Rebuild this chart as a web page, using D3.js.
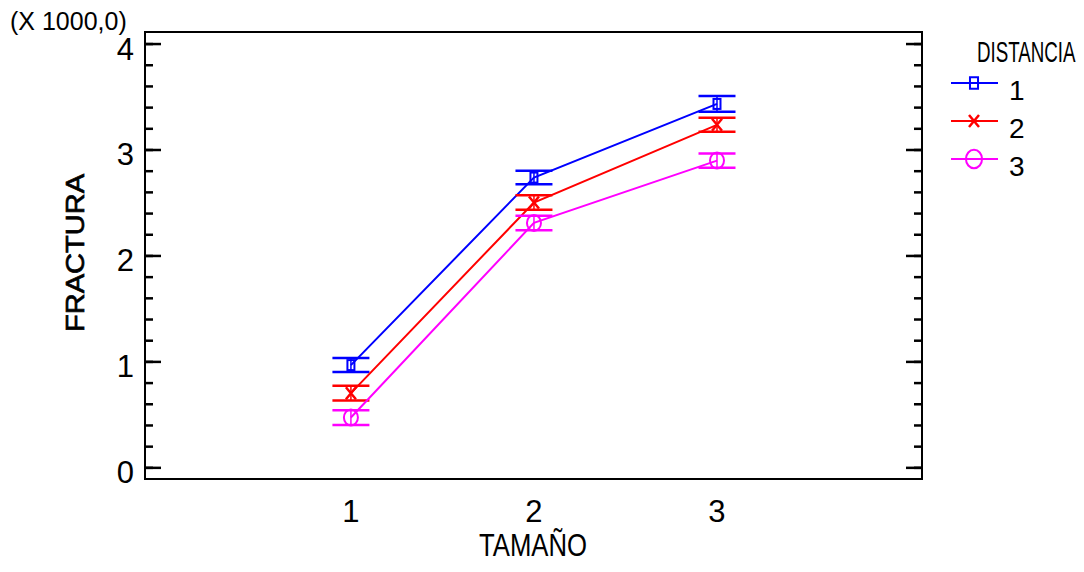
<!DOCTYPE html>
<html>
<head>
<meta charset="utf-8">
<script src="https://cdn.jsdelivr.net/npm/d3@7"></script>
<style>
 body { margin: 0; background: #fff; }
 text { font-family: "Liberation Sans", Arial, sans-serif; fill: #000; }
</style>
</head>
<body>
<script>
const width = 1084;
const height = 572;

// data (values in thousands)
const tamano = [1, 2, 3];
const distancia = ["1", "2", "3"];
const colors = ["#0000ff", "#ff0000", "#ff00ff"];
const markers = ["square", "cross", "circle"];
const means = [
 [0.965, 2.735, 3.43],
 [0.70, 2.50, 3.233],
 [0.47, 2.307, 2.895]
];
const halfErr = [
 [0.066, 0.064, 0.074],
 [0.070, 0.068, 0.066],
 [0.070, 0.068, 0.068]
];
const yTicks = [0, 1, 2, 3, 4];
const xTicks = [1, 2, 3];

const frame = { left: 145, right: 922, top: 32, bottom: 479 };

var svg = d3.select("body")
 .append("svg")
 .attr("width", width)
 .attr("height", height);

const x = d3.scaleLinear().domain([-0.125, 4.12]).range([frame.left, frame.right]);
const y = d3.scaleLinear().domain([-0.11, 4.109]).range([frame.bottom, frame.top]);

// frame
svg.append("rect")
 .attr("x", frame.left)
 .attr("y", frame.top)
 .attr("width", frame.right - frame.left)
 .attr("height", frame.bottom - frame.top)
 .attr("fill", "none")
 .attr("stroke", "#000")
 .attr("stroke-width", 2);

// inward ticks, left and right
const minor = d3.range(0, 4.001, 0.2).map(v => +v.toFixed(1));
function tickAxis(sel, dir) {
 const axMinor = (dir > 0 ? d3.axisRight(y) : d3.axisLeft(y)).tickValues(minor).tickSize(8).tickFormat("");
 const axMajor = (dir > 0 ? d3.axisRight(y) : d3.axisLeft(y)).tickValues(yTicks).tickSize(16).tickFormat("");
 sel.append("g").call(axMinor);
 sel.append("g").call(axMajor);
 sel.selectAll(".domain").remove();
 sel.selectAll("line").attr("stroke", "#000").attr("stroke-width", 2.5);
}
tickAxis(svg.append("g").attr("transform", "translate(" + frame.left + ",0)"), 1);
tickAxis(svg.append("g").attr("transform", "translate(" + frame.right + ",0)"), -1);

// y labels
svg.append("g")
 .selectAll("text")
 .data(yTicks)
 .enter()
 .append("text")
 .attr("x", 134)
 .attr("y", d => y(d) + 16)
 .attr("text-anchor", "end")
 .attr("font-size", 31)
 .text(d => d);

// x labels
svg.append("g")
 .selectAll("text")
 .data(xTicks)
 .enter()
 .append("text")
 .attr("x", d => x(d))
 .attr("y", 522)
 .attr("text-anchor", "middle")
 .attr("font-size", 31)
 .text(d => d);

svg.append("text")
 .attr("x", 10)
 .attr("y", 30)
 .attr("font-size", 25)
 .text("(X 1000,0)");

svg.append("text")
 .attr("transform", "translate(84,253) rotate(-90)")
 .attr("text-anchor", "middle")
 .attr("font-size", 26)
 .attr("textLength", 158)
 .attr("lengthAdjust", "spacingAndGlyphs")
 .attr("stroke", "#000")
 .attr("stroke-width", 0.7)
 .text("FRACTURA");

svg.append("text")
 .attr("x", 479)
 .attr("y", 556)
 .attr("font-size", 31)
 .attr("textLength", 108)
 .attr("lengthAdjust", "spacingAndGlyphs")
 .text("TAMAÑO");

function drawMarker(g, kind, color, big) {
 const s = big ? 1.15 : 1;
 if (kind === "square") {
  g.append("rect").attr("x", -3.5 * s).attr("y", -5 * s).attr("width", 7 * s).attr("height", 10 * s)
   .attr("fill", "none").attr("stroke", color).attr("stroke-width", 2);
 } else if (kind === "cross") {
  g.append("path").attr("d", "M-5,-6L5,6M5,-6L-5,6").attr("stroke", color).attr("stroke-width", 2.5).attr("fill", "none");
 } else {
  g.append("ellipse").attr("rx", 7 * s).attr("ry", 8 * s)
   .attr("fill", "none").attr("stroke", color).attr("stroke-width", 2);
 }
}

// series
means.forEach((vals, si) => {
 const color = colors[si];
 const g = svg.append("g");
 const line = d3.line().x((d, i) => x(tamano[i])).y(d => y(d));
 g.append("path")
  .datum(vals)
  .attr("d", line)
  .attr("fill", "none")
  .attr("stroke", color)
  .attr("stroke-width", 2);

 vals.forEach((v, i) => {
  const cx = x(tamano[i]);
  const top = y(v + halfErr[si][i]);
  const bot = y(v - halfErr[si][i]);
  g.append("line").attr("x1", cx - 18.5).attr("x2", cx + 18.5).attr("y1", top).attr("y2", top)
   .attr("stroke", color).attr("stroke-width", 2.5);
  g.append("line").attr("x1", cx - 18.5).attr("x2", cx + 18.5).attr("y1", bot).attr("y2", bot)
   .attr("stroke", color).attr("stroke-width", 2.5);
  g.append("line").attr("x1", cx).attr("x2", cx).attr("y1", top).attr("y2", bot)
   .attr("stroke", color).attr("stroke-width", 1.5);
  drawMarker(g.append("g").attr("transform", "translate(" + cx + "," + y(v) + ")"), markers[si], color, false);
 });
});

// legend (title squeezed sideways like the original)
svg.append("text")
 .attr("transform", "translate(977,62) scale(0.625,1)")
 .attr("font-size", 30)
 .text("DISTANCIA");

const legendY = [83, 121, 159];
distancia.forEach((name, i) => {
 const g = svg.append("g");
 g.append("line").attr("x1", 951).attr("x2", 998).attr("y1", legendY[i]).attr("y2", legendY[i])
  .attr("stroke", colors[i]).attr("stroke-width", 2);
 drawMarker(g.append("g").attr("transform", "translate(974," + legendY[i] + ")"), markers[i], colors[i], true);
 g.append("text")
  .attr("x", 1009)
  .attr("y", legendY[i] + 17)
  .attr("font-size", 28)
  .text(name);
});
</script>
</body>
</html>
